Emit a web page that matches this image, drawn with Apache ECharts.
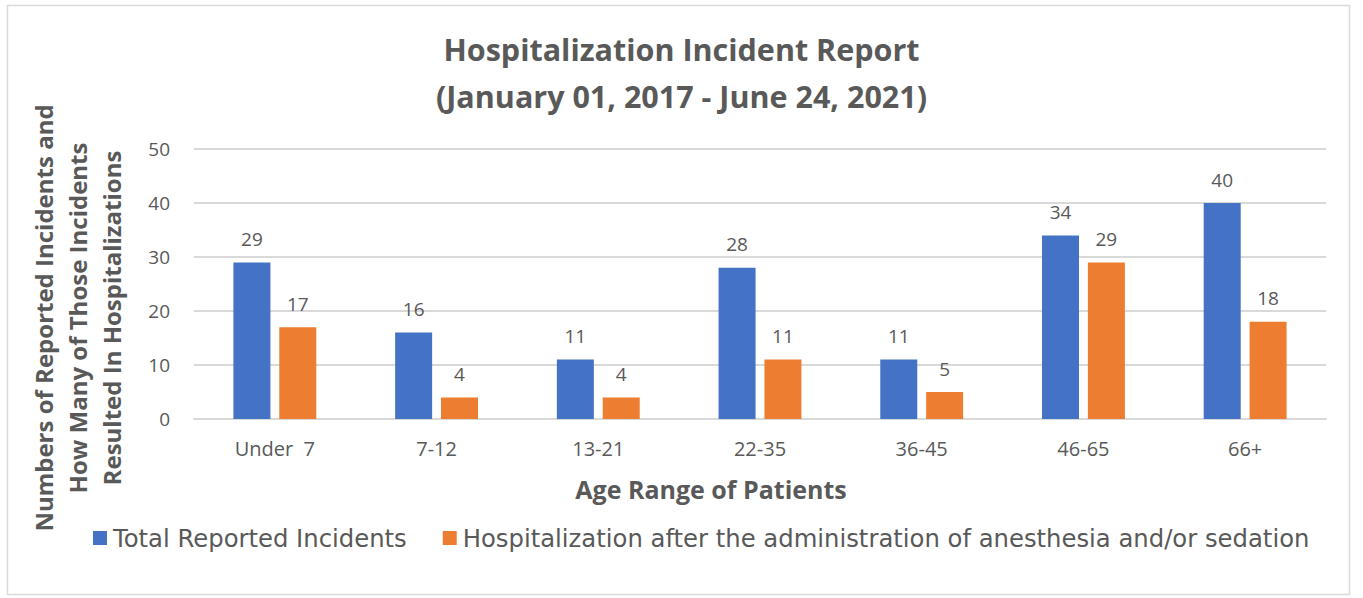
<!DOCTYPE html>
<html>
<head>
<meta charset="utf-8">
<style>
  html, body { margin: 0; padding: 0; background: #fff; }
  #chart { width: 1363px; height: 598px; }
</style>
<script src="https://cdn.jsdelivr.net/npm/echarts@6/dist/echarts.min.js"></script>
</head>
<body>
<div id="chart"></div>
<script>
var ageRanges = ['Under  7', '7-12', '13-21', '22-35', '36-45', '46-65', '66+'];
var totalReported = [29, 16, 11, 28, 11, 34, 40];
var hospitalized = [17, 4, 4, 11, 5, 29, 18];
var seriesNames = ['Total Reported Incidents', 'Hospitalization after the administration of anesthesia and/or sedation'];

(function() {
  var ink = '#595959';
  var blue = '#4472C4';
  var orange = '#ED7D31';
  var rule = '#d9d9d9';

  var chart = echarts.init(document.getElementById('chart'), null, { renderer: 'svg' });
  chart.setOption({
    animation: false,
    title: {
      text: 'Hospitalization Incident Report\n(January 01, 2017 - June 24, 2021)',
      left: 'center',
      top: 20,
      textStyle: {
        color: ink,
        fontFamily: 'Open Sans',
        fontWeight: 'bold',
        fontSize: 30.5,
        lineHeight: 47
      }
    },
    graphic: [{
      type: 'rect',
      shape: { x: 7.5, y: 5.5, width: 1342, height: 589 },
      style: { fill: 'none', stroke: '#d9d9d9', lineWidth: 1.5 },
      silent: true
    }],
    legend: {
      data: seriesNames,
      left: 88,
      top: 521,
      itemWidth: 14,
      itemHeight: 14,
      itemGap: 36,
      icon: 'rect',
      textStyle: { color: ink, fontFamily: 'DejaVu Sans', fontSize: 24.3, padding: [0, 0, 0, 1] }
    },
    grid: {
      left: 194,
      right: 37,
      top: 149,
      bottom: 179,
      outerBoundsMode: 'none'
    },
    xAxis: {
      type: 'category',
      data: ageRanges,
      name: 'Age Range of Patients',
      nameLocation: 'middle',
      nameGap: 57,
      nameTextStyle: {
        color: ink,
        fontFamily: 'Open Sans',
        fontWeight: 'bold',
        fontSize: 25,
        padding: [0, 98, 0, 0]
      },
      axisLine: { lineStyle: { color: rule, width: 2 } },
      axisTick: { show: false },
      axisLabel: { color: ink, fontFamily: 'Open Sans', fontSize: 20, margin: 19 }
    },
    yAxis: {
      type: 'value',
      min: 0,
      max: 50,
      interval: 10,
      name: 'Numbers of Reported Incidents and\nHow Many of Those Incidents\nResulted In Hospitalizations',
      nameLocation: 'middle',
      nameGap: 66,
      nameTextStyle: {
        color: ink,
        fontFamily: 'Open Sans',
        fontWeight: 'bold',
        fontSize: 24,
        lineHeight: 34,
        padding: [0, 68, 0, 0]
      },
      axisLine: { show: false },
      axisTick: { show: false },
      axisLabel: { color: ink, fontFamily: 'Open Sans', fontSize: 19, margin: 24 },
      splitLine: { lineStyle: { color: rule, width: 2 } }
    },
    series: [
      {
        name: seriesNames[0],
        type: 'bar',
        data: totalReported,
        barWidth: 37,
        barGap: '24%',
        itemStyle: { color: blue },
        label: {
          show: true,
          position: 'top',
          distance: 14,
          color: ink,
          fontFamily: 'Open Sans',
          fontSize: 19
        }
      },
      {
        name: seriesNames[1],
        type: 'bar',
        data: hospitalized,
        barWidth: 37,
        itemStyle: { color: orange },
        label: {
          show: true,
          position: 'top',
          distance: 14,
          color: ink,
          fontFamily: 'Open Sans',
          fontSize: 19
        }
      }
    ]
  });

  window.addEventListener('resize', function() {
    chart.resize();
  });
})();
</script>
</body>
</html>
